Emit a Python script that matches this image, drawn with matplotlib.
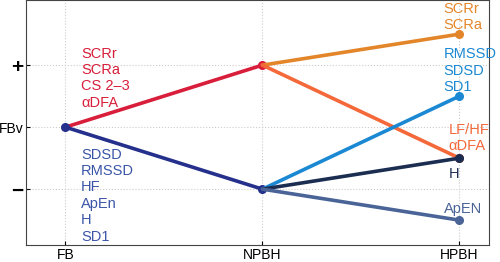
import matplotlib.pyplot as plt

plt.rcParams['font.family'] = ['Liberation Sans', 'DejaVu Sans']

# Stages on the x axis and the y levels
stages = ['FB', 'NPBH', 'HPBH']
ytick_pos = [-1, 0, 1]
ytick_labels = ['\u2212', 'FBv', '+']

# Each segment: (x start, y start, x end, y end, colour)
seg_x0 = [1, 1, 2, 2, 2, 2, 2]
seg_y0 = [0, 0, 1, 1, -1, -1, -1]
seg_x1 = [2, 2, 3, 3, 3, 3, 3]
seg_y1 = [1, -1, 1.5, -0.5, 0.5, -0.5, -1.5]
seg_colors = ['#d81e3a', '#252f8c', '#e3862a', '#f4683a', '#1a88d2', '#1c2d52', '#4a6498']

# Text labels
left_up = ['SCRr', 'SCRa', 'CS 2\u20133', '\u03b1DFA']
left_down = ['SDSD', 'RMSSD', 'HF', 'ApEn', 'H', 'SD1']
right_orange = ['SCRr', 'SCRa']
right_blue = ['RMSSD', 'SDSD', 'SD1']
right_red = ['LF/HF', '\u03b1DFA']
right_navy = ['H']
right_steel = ['ApEN']

fig = plt.figure(figsize=(5, 2.62), dpi=100)
ax = fig.add_axes([0.052, 0.065, 0.926, 0.935])

for x0, y0, x1, y1, c in zip(seg_x0, seg_y0, seg_x1, seg_y1, seg_colors):
    ax.plot([x0, x1], [y0, y1], color=c, lw=2.6, solid_capstyle='round')
    ax.plot([x1], [y1], 'o', color=c, ms=5.5)
ax.plot([1], [0], 'o', color='#252f8c', ms=5.5)

ax.set_xlim(0.8, 3.15)
ax.set_ylim(-1.9, 2.05)
ax.set_xticks([1, 2, 3])
ax.set_xticklabels(stages, fontsize=10)
ax.set_yticks(ytick_pos)
ax.set_yticklabels(ytick_labels, fontsize=10)
for lab in ax.get_yticklabels():
    if lab.get_text() != 'FBv':
        lab.set_fontsize(15)
        lab.set_fontweight('bold')
ax.tick_params(direction='in', length=3, pad=2)
ax.grid(True, linestyle=':', color='#cccccc', lw=0.8)
for s in ax.spines.values():
    s.set_color('#444444')

fs = 10.5
ls = 1.22
ax.text(1.08, 0.28, '\n'.join(left_up), color='#d81e3a', fontsize=fs,
        va='bottom', ha='left', linespacing=ls)
ax.text(1.08, -0.33, '\n'.join(left_down), color='#3a55a8', fontsize=fs,
        va='top', ha='left', linespacing=ls)
ax.text(2.92, 1.53, '\n'.join(right_orange), color='#e3862a', fontsize=fs,
        va='bottom', ha='left', linespacing=ls)
ax.text(2.92, 0.53, '\n'.join(right_blue), color='#1a88d2', fontsize=fs,
        va='bottom', ha='left', linespacing=ls)
ax.text(2.945, -0.42, '\n'.join(right_red), color='#f4683a', fontsize=fs,
        va='bottom', ha='left', linespacing=ls)
ax.text(2.945, -0.64, '\n'.join(right_navy), color='#1c2d52', fontsize=fs,
        va='top', ha='left')
ax.text(2.92, -1.43, '\n'.join(right_steel), color='#4a6498', fontsize=fs,
        va='bottom', ha='left')

fig.savefig('out.png', dpi=100)
